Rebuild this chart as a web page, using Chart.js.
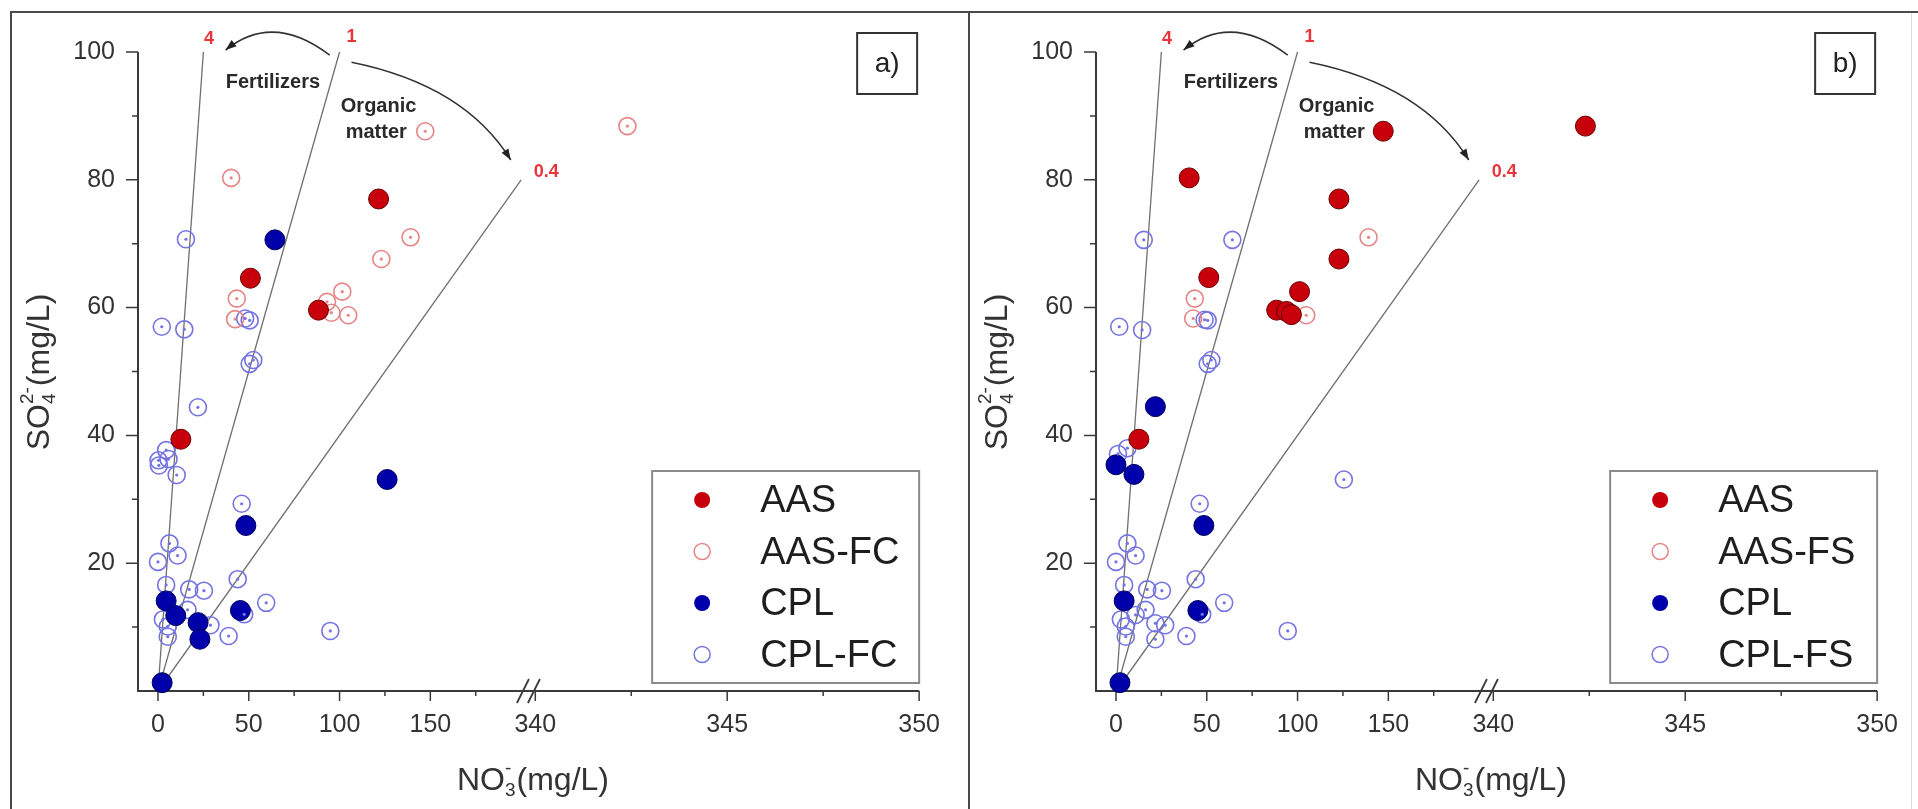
<!DOCTYPE html>
<html>
<head>
<meta charset="utf-8">
<script src="https://cdn.jsdelivr.net/npm/chart.js@4.4.0/dist/chart.umd.min.js"></script>
<style>
  html, body { margin: 0; padding: 0; background: #fff; }
  body { width: 1918px; height: 809px; position: relative; overflow: hidden; }
  canvas { position: absolute; top: 0; }
  #chartA { left: 0; }
  #chartB { left: 958px; }
  .frame { position: absolute; background: #4a4a4a; }
</style>
</head>
<body>
<canvas id="chartA" width="959" height="809"></canvas>
<canvas id="chartB" width="959" height="809"></canvas>
<div class="frame" style="left:11px; top:11px; width:1907px; height:2px;"></div>
<div class="frame" style="left:10px; top:11px; width:2px; height:798px;"></div>
<div class="frame" style="left:968px; top:11px; width:2px; height:798px;"></div>
<div class="frame" style="left:1911px; top:13px; width:1px; height:796px; background:#ddd;"></div>
<script>
// ---- data (NO3 mg/L, SO4 mg/L) ----
// panel a)
const aasA = [[121.5, 77.0], [50.9, 64.6], [88.4, 59.6], [12.6, 39.4]];
const aasFcA = [[147.2, 87.6], [342.4, 88.4], [40.3, 80.3], [139.1, 71.0], [123.0, 67.6], [43.4, 61.4],
  [42.5, 58.2], [101.5, 62.5], [104.8, 58.8], [93.1, 60.9], [95.5, 59.2]];
const cplA = [[64.4, 70.6], [126.2, 33.1], [48.4, 25.9], [4.5, 14.1], [9.8, 11.8], [45.4, 12.6],
  [22.1, 10.7], [23.1, 8.1], [2.3, 1.3]];
const cplFcA = [[15.4, 70.7], [2.1, 57.0], [14.5, 56.6], [48.0, 58.3], [50.5, 58.0], [50.5, 51.2], [52.5, 51.8],
  [22.0, 44.4], [4.5, 37.7], [0.3, 36.1], [5.8, 36.3], [0.5, 35.3], [10.3, 33.8], [46.1, 29.3], [6.3, 23.1],
  [10.8, 21.2], [0.0, 20.2], [43.9, 17.5], [4.5, 16.6], [17.2, 15.9], [25.3, 15.7], [59.6, 13.8], [2.7, 11.2],
  [5.4, 10.1], [5.4, 8.5], [16.3, 12.7], [28.9, 10.3], [38.9, 8.6], [94.9, 9.4], [47.5, 12.0]];

// panel b)
const aasB = [[40.3, 80.3], [147.2, 87.6], [342.4, 88.4], [122.8, 77.0], [122.8, 67.6], [51.1, 64.7],
  [101.1, 62.5], [88.5, 59.6], [93.9, 59.4], [96.6, 58.9], [12.6, 39.4]];
const aasFsB = [[139.1, 71.0], [43.4, 61.4], [42.5, 58.3], [104.8, 58.8]];
const cplB = [[21.7, 44.5], [0.0, 35.4], [9.9, 33.9], [48.4, 25.9], [4.5, 14.1], [45.1, 12.6], [2.2, 1.3]];
const cplFsB = [[15.3, 70.6], [64.1, 70.6], [1.8, 57.0], [14.4, 56.5], [48.8, 58.1], [50.5, 58.0], [50.5, 51.2],
  [52.5, 51.8], [6.3, 38.0], [1.1, 37.1], [125.5, 33.1], [46.1, 29.3], [6.3, 23.1], [10.8, 21.2], [0.0, 20.2],
  [43.9, 17.5], [4.5, 16.6], [17.2, 15.9], [25.3, 15.7], [59.6, 13.8], [2.7, 11.2], [10.8, 11.9], [16.3, 12.7],
  [5.4, 10.1], [5.4, 8.5], [21.7, 10.6], [27.1, 10.3], [21.7, 8.1], [38.8, 8.6], [94.6, 9.4], [47.5, 12.0]];

// SO4/NO3 ratio lines (end points, start at origin)
const ratioLineEnds = [[25, 100], [100, 100], [200, 80]];

// axis ticks
const xTickValues = [0, 50, 100, 150, 340, 345, 350];
const xMinorValues = [25, 75, 125, 175, 342.5, 347.5];
const yTickValues = [20, 40, 60, 80, 100];
const yMinorValues = [10, 30, 50, 70, 90];

// ---- broken x axis: 0..~204 then 340..350 stretched ----
const seg2Start = 340, seg2Axis = 207.8, seg2Scale = 21.14, breakAxis = 204.3;
function toAxis(x) {
  return x < 300 ? x : seg2Axis + (x - seg2Start) * seg2Scale;
}
function pts(arr) {
  return arr.map(p => ({ x: toAxis(p[0]), y: p[1] }));
}

const family = "'Liberation Sans', Arial, Helvetica, sans-serif";
const RED = '#c8000c', RED_EDGE = '#6a0000', RED_OPEN = '#e58585';
const BLUE = '#0000aa', BLUE_EDGE = '#00005a', BLUE_OPEN = '#7474e2';

// annotations in axis units
const notes = {
  ratioLabels: [{ text: '4', x: 28.1, y: 102.0 }, { text: '1', x: 106.6, y: 102.3 }, { text: '0.4', x: 213.9, y: 81.2 }],
  words: [{ text: 'Fertilizers', x: 63.3, y: 95.3 }, { text: 'Organic', x: 121.5, y: 91.5 }, { text: 'matter', x: 120.2, y: 87.4 }],
  arrows: [
    { from: [94.6, 99.5], ctrl: [63.3, 106.3], to: [37.2, 100.3] },
    { from: [106.6, 98.4], ctrl: [168.9, 94.8], to: [194.3, 83.1] }
  ]
};

function drawScripted(ctx, parts, cx, cy, size, rotate) {
  const small = Math.round(size * 0.6);
  ctx.save();
  ctx.translate(cx, cy);
  if (rotate) ctx.rotate(-Math.PI / 2);
  let w = 0;
  parts.forEach(p => {
    if (typeof p === 'string') {
      ctx.font = size + 'px ' + family;
      w += ctx.measureText(p).width;
    } else {
      ctx.font = small + 'px ' + family;
      p.w = Math.max(ctx.measureText(p.sub).width, ctx.measureText(p.sup).width) + 1;
      w += p.w;
    }
  });
  let x = -w / 2;
  const base = size * 0.36;
  ctx.fillStyle = '#333';
  ctx.textAlign = 'left';
  ctx.textBaseline = 'alphabetic';
  parts.forEach(p => {
    if (typeof p === 'string') {
      ctx.font = size + 'px ' + family;
      ctx.fillText(p, x, base);
      x += ctx.measureText(p).width;
    } else {
      ctx.font = small + 'px ' + family;
      ctx.fillText(p.sub, x, base + size * 0.2);
      ctx.fillText(p.sup, x, base - size * 0.48);
      x += p.w;
    }
  });
  ctx.restore();
}

function arrowHead(ctx, x, y, ang) {
  const len = 11, half = 4;
  ctx.beginPath();
  ctx.moveTo(x, y);
  ctx.lineTo(x - len * Math.cos(ang) + half * Math.sin(ang), y - len * Math.sin(ang) - half * Math.cos(ang));
  ctx.lineTo(x - len * Math.cos(ang) - half * Math.sin(ang), y - len * Math.sin(ang) + half * Math.cos(ang));
  ctx.closePath();
  ctx.fill();
}

const panelPlugin = {
  id: 'panelPlugin',
  beforeDatasetsDraw(chart) {
    const { ctx, chartArea: a, scales: { x, y } } = chart;
    ctx.save();
    ctx.strokeStyle = '#3a3a3a';
    ctx.lineWidth = 2;
    ctx.beginPath();
    ctx.moveTo(a.left, a.top);
    ctx.lineTo(a.left, a.bottom);
    ctx.lineTo(a.right, a.bottom);
    ctx.stroke();
    ctx.lineWidth = 1.5;
    ctx.beginPath();
    yTickValues.forEach(v => { const p = y.getPixelForValue(v); ctx.moveTo(a.left, p); ctx.lineTo(a.left - 12, p); });
    yMinorValues.forEach(v => { const p = y.getPixelForValue(v); ctx.moveTo(a.left, p); ctx.lineTo(a.left - 6, p); });
    xTickValues.forEach(v => { const p = x.getPixelForValue(toAxis(v)); ctx.moveTo(p, a.bottom); ctx.lineTo(p, a.bottom + 10); });
    xMinorValues.forEach(v => { const p = x.getPixelForValue(toAxis(v)); ctx.moveTo(p, a.bottom); ctx.lineTo(p, a.bottom + 5); });
    ctx.stroke();
    // axis break marks
    const bx = x.getPixelForValue(breakAxis);
    ctx.lineWidth = 1.8;
    ctx.beginPath();
    [-6, 5].forEach(o => { ctx.moveTo(bx + o - 6, a.bottom + 12); ctx.lineTo(bx + o + 6, a.bottom - 12); });
    ctx.stroke();
    // axis titles
    drawScripted(ctx, ['NO', { sub: '3', sup: '-' }, '(mg/L)'], 533, 778, 32, false);
    drawScripted(ctx, ['SO', { sub: '4', sup: '2-' }, '(mg/L)'], 37, 372, 32, true);
    ctx.restore();
  },
  afterDatasetsDraw(chart) {
    const { ctx, scales: { x, y } } = chart;
    ctx.save();
    // small marks inside hollow symbols
    chart.data.datasets.forEach((ds, i) => {
      if (!ds.hollow) return;
      ctx.fillStyle = ds.borderColor;
      chart.getDatasetMeta(i).data.forEach(el => {
        ctx.beginPath();
        ctx.arc(el.x, el.y, 1.6, 0, Math.PI * 2);
        ctx.fill();
      });
    });
    // curved arrows
    ctx.strokeStyle = '#333';
    ctx.fillStyle = '#222';
    ctx.lineWidth = 1.5;
    notes.arrows.forEach(ar => {
      const f = [x.getPixelForValue(ar.from[0]), y.getPixelForValue(ar.from[1])];
      const c = [x.getPixelForValue(ar.ctrl[0]), y.getPixelForValue(ar.ctrl[1])];
      const t = [x.getPixelForValue(ar.to[0]), y.getPixelForValue(ar.to[1])];
      ctx.beginPath();
      ctx.moveTo(f[0], f[1]);
      ctx.quadraticCurveTo(c[0], c[1], t[0], t[1]);
      ctx.stroke();
      arrowHead(ctx, t[0], t[1], Math.atan2(t[1] - c[1], t[0] - c[0]));
    });
    ctx.textAlign = 'center';
    ctx.textBaseline = 'middle';
    ctx.fillStyle = '#e8353b';
    ctx.font = 'bold 18px ' + family;
    notes.ratioLabels.forEach(n => ctx.fillText(n.text, x.getPixelForValue(n.x), y.getPixelForValue(n.y)));
    ctx.fillStyle = '#2a2a2a';
    ctx.font = 'bold 20px ' + family;
    notes.words.forEach(n => ctx.fillText(n.text, x.getPixelForValue(n.x), y.getPixelForValue(n.y)));
    ctx.restore();
  },
  afterDraw(chart) {
    const { ctx, chartArea: a } = chart;
    const tag = chart.options.plugins.panelTag;
    ctx.save();
    // panel tag a) / b)
    ctx.strokeStyle = '#333';
    ctx.lineWidth = 2;
    ctx.strokeRect(a.right - 62, 33, 60, 61);
    ctx.fillStyle = '#222';
    ctx.font = '28px ' + family;
    ctx.textAlign = 'center';
    ctx.textBaseline = 'middle';
    ctx.fillText(tag, a.right - 32, 64);
    // legend box
    const bx = a.right - 267, by = a.bottom - 220, bw = 267, bh = 212;
    ctx.fillStyle = '#fff';
    ctx.fillRect(bx, by, bw, bh);
    ctx.strokeStyle = '#8a8a8a';
    ctx.lineWidth = 2;
    ctx.strokeRect(bx, by, bw, bh);
    const items = chart.data.datasets.filter(d => d.legendOrder !== undefined)
      .sort((p, q) => p.legendOrder - q.legendOrder);
    ctx.textAlign = 'left';
    ctx.font = '38px ' + family;
    items.forEach((d, i) => {
      const cy = by + 29 + i * 51.5;
      ctx.beginPath();
      ctx.arc(bx + 50, cy, 8, 0, Math.PI * 2);
      if (d.hollow) {
        ctx.strokeStyle = d.borderColor;
        ctx.lineWidth = 1.5;
        ctx.stroke();
      } else {
        ctx.fillStyle = d.backgroundColor;
        ctx.fill();
      }
      ctx.fillStyle = '#1e1e1e';
      ctx.fillText(d.label, bx + 108, cy + 2);
    });
    ctx.restore();
  }
};

function makePanel(canvasId, tag, sets) {
  const datasets = [
    { label: sets.labels[0], data: pts(sets.aas), backgroundColor: RED, borderColor: RED_EDGE, borderWidth: 1,
      pointRadius: 10, legendOrder: 0 },
    { label: sets.labels[2], data: pts(sets.cpl), backgroundColor: BLUE, borderColor: BLUE_EDGE, borderWidth: 1,
      pointRadius: 10, legendOrder: 2 },
    { label: sets.labels[1], data: pts(sets.aasOpen), backgroundColor: 'rgba(255,255,255,0)', borderColor: RED_OPEN,
      borderWidth: 1.6, pointRadius: 8.5, hollow: true, legendOrder: 1 },
    { label: sets.labels[3], data: pts(sets.cplOpen), backgroundColor: 'rgba(255,255,255,0)', borderColor: BLUE_OPEN,
      borderWidth: 1.6, pointRadius: 8.5, hollow: true, legendOrder: 3 }
  ];
  ratioLineEnds.forEach(e => {
    datasets.push({ data: [{ x: 0, y: 0 }, { x: e[0], y: e[1] }], showLine: true, pointRadius: 0,
      borderColor: '#707070', borderWidth: 1.3 });
  });
  datasets.forEach(d => { d.clip = false; });

  return new Chart(document.getElementById(canvasId), {
    type: 'scatter',
    data: { datasets: datasets },
    options: {
      responsive: false,
      animation: false,
      layout: { padding: { top: 52, right: 27, left: 0, bottom: 0 } },
      plugins: { legend: { display: false }, tooltip: { enabled: false }, panelTag: tag },
      scales: {
        x: {
          type: 'linear',
          min: -11,
          max: toAxis(350),
          grid: { display: false, drawTicks: false },
          border: { display: false },
          afterBuildTicks: s => { s.ticks = xTickValues.map(v => ({ value: toAxis(v) })); },
          afterFit: s => { s.height = 118; },
          ticks: {
            callback: (v, i) => xTickValues[i],
            padding: 19,
            autoSkip: false,
            maxRotation: 0,
            color: '#333',
            font: { size: 25, family: family }
          }
        },
        y: {
          min: 0,
          max: 100,
          grid: { display: false, drawTicks: false },
          border: { display: false },
          afterBuildTicks: s => { s.ticks = yTickValues.map(v => ({ value: v })); },
          afterFit: s => { s.width = 138; },
          ticks: {
            padding: 23,
            color: '#333',
            font: { size: 25, family: family }
          }
        }
      }
    },
    plugins: [panelPlugin]
  });
}

makePanel('chartA', 'a)', { aas: aasA, aasOpen: aasFcA, cpl: cplA, cplOpen: cplFcA,
  labels: ['AAS', 'AAS-FC', 'CPL', 'CPL-FC'] });
makePanel('chartB', 'b)', { aas: aasB, aasOpen: aasFsB, cpl: cplB, cplOpen: cplFsB,
  labels: ['AAS', 'AAS-FS', 'CPL', 'CPL-FS'] });
</script>
</body>
</html>
